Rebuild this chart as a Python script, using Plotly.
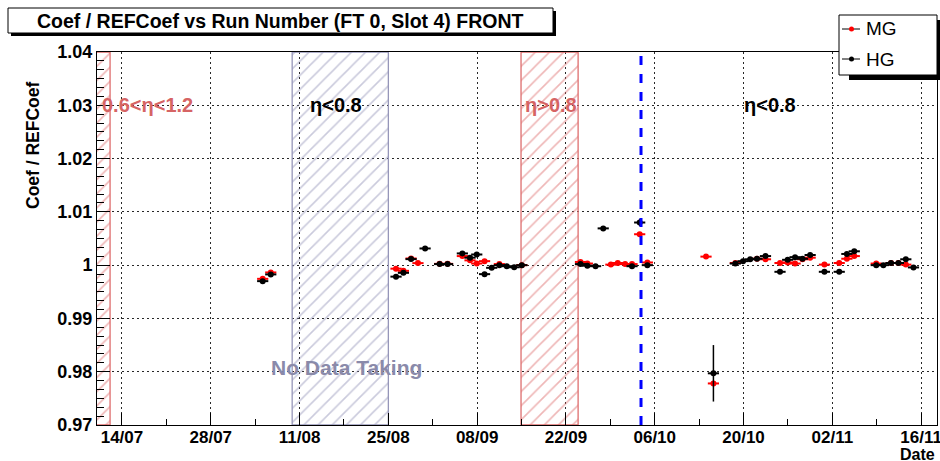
import plotly.graph_objects as go

# ---- calibration runs: date, MG and HG ratios (None = no point) ----
run_dates = [
    "2009-08-05 04:30", "2009-08-06 11:00", "2009-08-26 05:00", "2009-08-27 09:00",
    "2009-08-28 14:00", "2009-08-29 16:00", "2009-08-30 19:00", "2009-09-02 02:00",
    "2009-09-03 08:00", "2009-09-05 16:00", "2009-09-06 21:00", "2009-09-07 22:30",
    "2009-09-09 04:00", "2009-09-10 07:00", "2009-09-11 12:00", "2009-09-12 16:00",
    "2009-09-13 20:00", "2009-09-15 01:00", "2009-09-24 07:00", "2009-09-25 09:00",
    "2009-09-26 16:00", "2009-09-27 21:00", "2009-09-29 02:00", "2009-09-30 04:00",
    "2009-10-01 08:00", "2009-10-02 10:00", "2009-10-03 15:00", "2009-10-04 20:00",
    "2009-10-14 02:00", "2009-10-15 06:00", "2009-10-18 17:00", "2009-10-19 22:00",
    "2009-10-21 01:00", "2009-10-22 03:00", "2009-10-23 11:00", "2009-10-25 18:00",
    "2009-10-26 23:00", "2009-10-28 03:00", "2009-10-29 07:00", "2009-10-30 12:00",
    "2009-11-01 18:00", "2009-11-04 02:00", "2009-11-05 07:00", "2009-11-06 11:00",
    "2009-11-09 22:00", "2009-11-11 01:00", "2009-11-12 06:00", "2009-11-13 10:00",
    "2009-11-14 14:00", "2009-11-15 19:00",
]

mg_ratio = [
    0.99743, 0.99863, 0.99934, 0.99893, 1.00125, 1.00038, None, 1.00024,
    1.00024, 1.0017, 1.0009, 1.0003, 1.00075, None, 1.0002, None,
    None, 1.0000, 1.0006, 1.0003, None, None, 1.0001, 1.0004,
    1.0002, 1.0002, 1.0058, 1.0005, 1.0016, 0.9778, 1.0004, None,
    None, 1.0012, 1.0011, 1.0004, 1.0005, 1.0003, 1.0011, 1.0014,
    1.0001, 1.0004, 1.0012, 1.0017, 1.0003, None, 1.0004, 1.0004,
    1.0001, None,
]

hg_ratio = [
    0.9970, 0.99826, 0.99784, 0.99856, 1.00113, None, 1.00313, 1.0002,
    1.0002, 1.0022, 1.0014, 1.0020, 0.99831, 0.9995, 1.0000, 0.9998,
    0.9996, 1.0000, 1.0002, 0.9999, 0.9998, 1.0069, None, None,
    None, 0.9998, 1.0080, 1.0000, None, 0.9797, 1.0003, 1.00075,
    1.0011, 1.0012, 1.0017, 0.99875, 1.0010, 1.0015, 1.0012, 1.0019,
    0.99875, 0.99875, 1.0021, 1.0026, 1.0000, 1.0000, 1.0004, 1.0004,
    1.0011, 0.99957,
]

hg_error = [0.0] * len(run_dates)
hg_error[26] = 0.0007
hg_error[29] = 0.0053

# ---- axis ticks ----
x_tick_dates = ["2009-07-14", "2009-07-28", "2009-08-11", "2009-08-25", "2009-09-08",
                "2009-09-22", "2009-10-06", "2009-10-20", "2009-11-03", "2009-11-17"]
x_tick_labels = ["14/07", "28/07", "11/08", "25/08", "08/09",
                 "22/09", "06/10", "20/10", "02/11", "16/11"]
y_tick_values = [0.97, 0.98, 0.99, 1.00, 1.01, 1.02, 1.03, 1.04]
y_tick_labels = ["0.97", "0.98", "0.99", "1", "1.01", "1.02", "1.03", "1.04"]

# ---- detector regions (hatched bands) ----
region_starts = ["2009-07-09 00:00", "2009-08-09 20:00", "2009-09-14 22:00"]
region_ends = ["2009-07-12 03:00", "2009-08-25 00:00", "2009-09-23 22:00"]
region_colors = ["rgb(222,110,110)", "rgb(150,150,185)", "rgb(222,110,110)"]

# labels above the bands
label_texts = ["0.6<η<1.2", "η<0.8", "η>0.8", "η<0.8", "No Data Taking"]
label_dates = ["2009-07-10 12:00", "2009-08-12 08:00", "2009-09-15 05:00",
               "2009-10-19 20:00", "2009-08-06 06:00"]
label_values = [1.03, 1.03, 1.03, 1.03, 0.9807]
label_colors = ["rgb(214,100,100)", "black", "rgb(214,100,100)", "black", "rgb(138,138,170)"]
label_sizes = [20, 20, 20, 20, 21]

ramp_change_date = "2009-10-03 20:00"

X_RANGE = ["2009-07-10 01:30", "2009-11-19 12:00"]
Y_RANGE = [0.97, 1.04]

W, H = 940, 461
ML, MR, MT, MB = 97, 3, 52, 36
PW, PH = W - ML - MR, H - MT - MB


def px(xp):
    return (xp - ML) / PW


def py(yp):
    return (H - MB - yp) / PH


FONT = "Liberation Sans, Arial, Helvetica, sans-serif"

fig = go.Figure()

# hatched bands
for x0, x1, col in zip(region_starts, region_ends, region_colors):
    fig.add_trace(go.Scatter(
        x=[x0, x1, x1, x0, x0],
        y=[Y_RANGE[0], Y_RANGE[0], Y_RANGE[1], Y_RANGE[1], Y_RANGE[0]],
        mode="lines", fill="toself",
        line=dict(color=col, width=1.3),
        fillcolor="rgba(0,0,0,0)",
        fillpattern=dict(shape="/", size=10, solidity=0.16, fgcolor=col, bgcolor="rgba(0,0,0,0)"),
        hoverinfo="skip", showlegend=False,
    ))


def add_series(y, color, err=None):
    # short horizontal bar behind each point
    fig.add_trace(go.Scatter(
        x=run_dates, y=y, mode="markers", hoverinfo="skip", showlegend=False,
        marker=dict(symbol="line-ew", size=8, line=dict(color=color, width=2)),
    ))
    kw = {}
    if err is not None:
        kw["error_y"] = dict(type="data", array=err, color=color, thickness=1.5, width=0)
    fig.add_trace(go.Scatter(
        x=run_dates, y=y, mode="markers", showlegend=False,
        marker=dict(symbol="circle", size=6, color=color), **kw,
    ))


add_series(mg_ratio, "red")
add_series(hg_ratio, "black", hg_error)

shapes = []
# vertical blue dashed line
shapes.append(dict(type="line", xref="x", yref="paper", x0=ramp_change_date, x1=ramp_change_date,
                   y0=0, y1=1, line=dict(color="blue", width=3, dash="dash")))
# title box with shadow
shapes.append(dict(type="rect", xref="paper", yref="paper", x0=px(11), x1=px(556), y0=py(36), y1=py(11),
                   fillcolor="black", line=dict(width=0), layer="above"))
shapes.append(dict(type="rect", xref="paper", yref="paper", x0=px(8), x1=px(553), y0=py(33), y1=py(8),
                   fillcolor="white", line=dict(color="black", width=1), layer="above"))
# legend box with shadow
shapes.append(dict(type="rect", xref="paper", yref="paper", x0=px(849), x1=px(945), y0=py(80), y1=py(20),
                   fillcolor="black", line=dict(width=0), layer="above"))
shapes.append(dict(type="rect", xref="paper", yref="paper", x0=px(839), x1=px(937), y0=py(75), y1=py(15),
                   fillcolor="white", line=dict(color="black", width=1), layer="above"))
for yy, col in [(29, "red"), (59, "black")]:
    shapes.append(dict(type="line", xref="paper", yref="paper", x0=px(842), x1=px(860), y0=py(yy), y1=py(yy),
                       line=dict(color="black", width=1), layer="above"))
    shapes.append(dict(type="circle", xref="paper", yref="paper", x0=px(849), x1=px(854),
                       y0=py(yy + 2.5), y1=py(yy - 2.5), fillcolor=col, line=dict(color=col, width=0),
                       layer="above"))

annotations = []
annotations.append(dict(text="Coef / REFCoef vs Run Number (FT 0, Slot 4) FRONT", xref="paper", yref="paper",
                        x=px(280), y=py(20.5), xanchor="center", yanchor="middle", showarrow=False,
                        font=dict(family=FONT, size=19.5, color="black", weight="bold")))
for name, yy in [("MG", 29), ("HG", 59)]:
    annotations.append(dict(text=name, xref="paper", yref="paper", x=px(864), y=py(yy),
                            xanchor="left", yanchor="middle", showarrow=False,
                            font=dict(family=FONT, size=19, color="black")))
for t, xd, yv, col, sz in zip(label_texts, label_dates, label_values, label_colors, label_sizes):
    annotations.append(dict(text=t, x=xd, y=yv, xref="x", yref="y", xanchor="left", yanchor="middle",
                            showarrow=False, font=dict(family=FONT, size=sz, color=col, weight="bold")))
annotations.append(dict(text="Coef / REFCoef", xref="paper", yref="paper", x=px(33), y=py(145),
                        xanchor="center", yanchor="middle", textangle=-90, showarrow=False,
                        font=dict(family=FONT, size=17.5, color="black", weight="bold")))
annotations.append(dict(text="Date", xref="paper", yref="paper", x=1, y=py(454.5),
                        xanchor="right", yanchor="middle", showarrow=False,
                        font=dict(family=FONT, size=16, color="black", weight="bold")))

fig.update_layout(
    width=W, height=H,
    margin=dict(l=ML, r=MR, t=MT, b=MB),
    paper_bgcolor="white", plot_bgcolor="white",
    shapes=shapes, annotations=annotations,
    showlegend=False,
    xaxis=dict(
        type="date", range=X_RANGE, automargin=False,
        tickmode="array", tickvals=x_tick_dates, ticktext=x_tick_labels,
        ticks="inside", ticklen=12, tickcolor="black", tickwidth=1,
        showgrid=True, gridcolor="rgb(40,40,40)", griddash="2px,3px", gridwidth=1.2,
        showline=True, linecolor="black", linewidth=1, mirror=True,
        zeroline=False, ticklabeloverflow="allow", ticklabelstandoff=-3,
        tickfont=dict(family=FONT, size=17, color="black", weight="bold"),
        minor=dict(ticks="inside", ticklen=6, tickcolor="black", tick0="2009-07-07",
                   dtick=7 * 86400000, showgrid=False),
    ),
    yaxis=dict(
        range=Y_RANGE, automargin=False,
        tickmode="array", tickvals=y_tick_values, ticktext=y_tick_labels,
        ticks="inside", ticklen=13, tickcolor="black", tickwidth=1,
        showgrid=True, gridcolor="rgb(40,40,40)", griddash="2px,3px", gridwidth=1.2,
        showline=True, linecolor="black", linewidth=1, mirror=True,
        zeroline=False,
        tickfont=dict(family=FONT, size=18, color="black", weight="bold"),
        minor=dict(ticks="inside", ticklen=7, tickcolor="black", tick0=0.97,
                   dtick=0.01 / 6, showgrid=False),
    ),
)

fig.write_html("out.html")
